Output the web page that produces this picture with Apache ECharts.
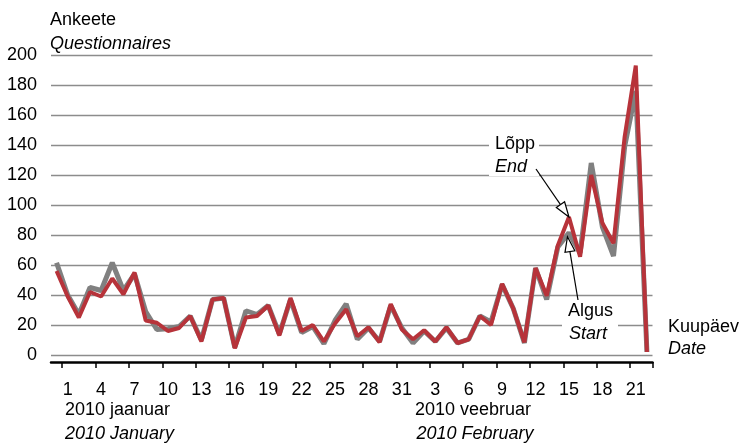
<!DOCTYPE html>
<html><head><meta charset="utf-8">
<script src="https://cdn.jsdelivr.net/npm/echarts@6/dist/echarts.min.js"></script>
<style>html,body{margin:0;padding:0;background:#fff}#c{width:739px;height:444px}</style>
</head><body><div id="c"></div>
<script>
// Day of month for each category: 31 Dec 2009 ... 22 Feb 2010
const days = [31,
  1,2,3,4,5,6,7,8,9,10,11,12,13,14,15,16,17,18,19,20,21,22,23,24,25,26,27,28,29,30,31,
  1,2,3,4,5,6,7,8,9,10,11,12,13,14,15,16,17,18,19,20,21,22];
// Questionnaires by start date (Algus / Start) - grey
const startVals = [61.5,40,27,45,43,61.5,43,54,29,17,17.5,19,26,10,37,38,5,29.5,27,33,14,37,15,19,7.5,23,34,10.5,18,9,33,18,8,16,9,18,8,10.5,26,22,47,31,8,58,37,72,81.5,68,128,85.5,66,139,176,2];
// Questionnaires by end date (Lõpp / End) - red
const endVals = [56,39,25,42,39,51,40.5,55,23,21.5,16,18,26,9,37,38,4.5,25,26,33,13,38,16,20,9,21,30.5,12.5,18.5,8.5,34,17,10.5,16.5,9,18.5,8,10.5,26,20,47.5,31,8.5,58,39.5,73,92,65.5,120,88,74.5,145.5,193,2];
const yTicks = {min: 0, max: 200, step: 20};
const annotIndex = 46; // 15 Feb

const FONT = '"Liberation Sans", Arial, sans-serif';
const chart = echarts.init(document.getElementById('c'), null, {renderer: 'canvas'});
const showIdx = (i) => (i - 1) % 3 === 0 && i >= 1;

chart.setOption({
  animation: false,
  backgroundColor: '#fff',
  grid: {left: 51, right: 86.5, top: 55, bottom: 89, containLabel: false},
  xAxis: {
    type: 'category', data: days, boundaryGap: true, position: 'bottom', offset: 7,
    axisLine: {show: true, onZero: false, lineStyle: {color: '#000', width: 2.5}},
    axisTick: {show: true, inside: false, interval: (i) => showIdx(i), length: 6, lineStyle: {color: '#000', width: 1.5}},
    axisLabel: {interval: (i) => showIdx(i), fontSize: 18, fontFamily: FONT, color: '#000', margin: 19},
    splitLine: {show: false}
  },
  yAxis: {
    type: 'value', min: yTicks.min, max: yTicks.max, interval: yTicks.step,
    axisLine: {show: false}, axisTick: {show: false},
    axisLabel: {fontSize: 18, fontFamily: FONT, color: '#000', margin: 14},
    splitLine: {lineStyle: {color: '#8c8c8c', width: 1.3}}
  },
  series: [
    {type: 'line', name: 'Algus', data: startVals, symbol: 'none', lineStyle: {color: '#808080', width: 5}, z: 2},
    {type: 'line', name: 'Lõpp', data: endVals, symbol: 'none', lineStyle: {color: '#b7333a', width: 4}, z: 3}
  ]
});

function txt(t, x, y, italic) {
  return {type: 'text', z: 100, style: {text: t, x: x, y: y, fontSize: 18, fontFamily: FONT,
    fontStyle: italic ? 'italic' : 'normal', fill: '#000', align: 'left', verticalAlign: 'middle'}};
}
function arrow(x1, y1, x2, y2) {
  const dx = x2 - x1, dy = y2 - y1, L = Math.hypot(dx, dy);
  const ux = dx / L, uy = dy / L, len = 15, hw = 5;
  const bx = x2 - ux * len, by = y2 - uy * len;
  return [
    {type: 'line', z: 100, shape: {x1: x1, y1: y1, x2: bx, y2: by}, style: {stroke: '#000', lineWidth: 1.2}},
    {type: 'polygon', z: 101, shape: {points: [[x2, y2], [bx - uy * hw, by + ux * hw], [bx + uy * hw, by - ux * hw]]},
      style: {fill: '#fff', stroke: '#000', lineWidth: 1.2}}
  ];
}
const pEnd = chart.convertToPixel({gridIndex: 0}, [annotIndex, endVals[annotIndex]]);
const pStart = chart.convertToPixel({gridIndex: 0}, [annotIndex, startVals[annotIndex]]);

const g = [
  txt('Ankeete', 50, 20.5, false),
  txt('Questionnaires', 50, 43.5, true),
  txt('Kuupäev', 668, 327, false),
  txt('Date', 668, 348.5, true),
  txt('2010 jaanuar', 65, 410.5, false),
  txt('2010 January', 65, 433.5, true),
  txt('2010 veebruar', 415, 410.5, false),
  txt('2010 February', 416.5, 433.5, true),
  {type: 'rect', z: 99, shape: {x: 489, y: 134, width: 50, height: 42}, style: {fill: '#fff'}},
  {type: 'rect', z: 99, shape: {x: 562, y: 301, width: 56, height: 45}, style: {fill: '#fff'}},
  txt('Lõpp', 495, 144, false),
  txt('End', 495, 167, true),
  txt('Algus', 568, 311.5, false),
  txt('Start', 569, 334, true)
].concat(arrow(536, 169, pEnd[0], pEnd[1]), arrow(578, 300, pStart[0] - 1.5, pStart[1] + 4));
chart.setOption({graphic: g});
</script></body></html>
